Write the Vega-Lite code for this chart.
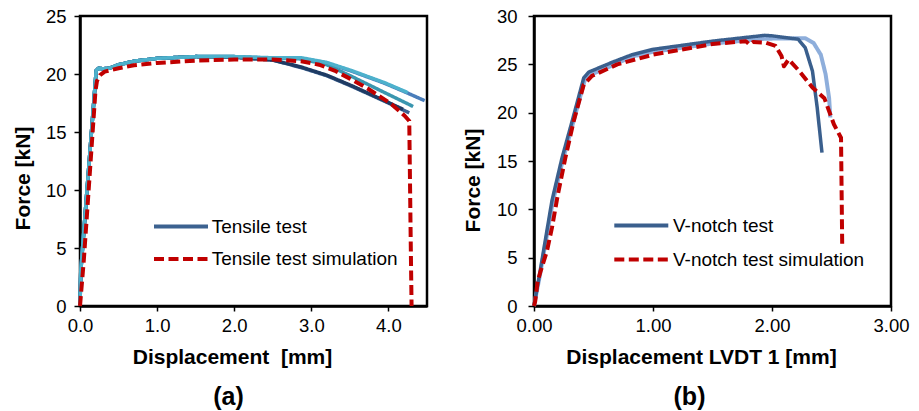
{
  "$schema": "https://vega.github.io/schema/vega-lite/v6.json",
  "autosize": {"type": "pad"},
  "padding": {"left": 11, "top": 5, "right": 10, "bottom": 0},
  "background": "white",
  "config": {
    "font": "Liberation Sans",
    "view": {"stroke": "black", "strokeWidth": 2.5},
    "axis": {"grid": false, "labelFlush": false, "domainColor": "black", "domainWidth": 2.5, "tickColor": "black", "tickWidth": 1.5, "labelFont": "Liberation Sans", "labelFontSize": 18.5, "labelColor": "black", "titleFont": "Liberation Sans", "titleFontSize": 21, "titleFontWeight": "bold", "titleColor": "black"},
    "axisX": {"tickSize": 5, "labelPadding": 5.5, "titlePadding": 11},
    "axisY": {"tickSize": 6, "labelPadding": 8, "titlePadding": 10},
    "legend": {"labelFont": "Liberation Sans", "labelFontSize": 19, "labelColor": "black", "labelLimit": 0, "symbolType": "M-1,0H3", "symbolSize": 729, "symbolStrokeWidth": 4, "rowPadding": 6, "orient": "none", "title": null},
    "title": {"font": "Liberation Sans", "fontSize": 25, "fontWeight": "bold", "color": "black"}
  },
  "datasets": {
    "left": [
      {"s": "T2", "x": 0, "f": 0}, {"s": "T2", "x": 0.01, "f": 3}, {"s": "T2", "x": 0.21, "f": 20.3}, {"s": "T2", "x": 0.24, "f": 20.5}, {"s": "T2", "x": 0.3, "f": 20.45}, {"s": "T2", "x": 0.38, "f": 20.5}, {"s": "T2", "x": 0.5, "f": 20.8}, {"s": "T2", "x": 0.7, "f": 21.1}, {"s": "T2", "x": 1.0, "f": 21.35}, {"s": "T2", "x": 1.5, "f": 21.5}, {"s": "T2", "x": 2.0, "f": 21.5}, {"s": "T2", "x": 2.5, "f": 21.35}, {"s": "T2", "x": 2.87, "f": 21.35}, {"s": "T2", "x": 3.2, "f": 20.95}, {"s": "T2", "x": 3.52, "f": 20.25}, {"s": "T2", "x": 3.95, "f": 19.2}, {"s": "T2", "x": 4.25, "f": 18.35}, {"s": "T2", "x": 4.47, "f": 17.7},
      {"s": "Tensile test", "x": 0, "f": 0}, {"s": "Tensile test", "x": 0.01, "f": 3}, {"s": "Tensile test", "x": 0.21, "f": 20.3}, {"s": "Tensile test", "x": 0.24, "f": 20.5}, {"s": "Tensile test", "x": 0.3, "f": 20.45}, {"s": "Tensile test", "x": 0.38, "f": 20.5}, {"s": "Tensile test", "x": 0.5, "f": 20.8}, {"s": "Tensile test", "x": 0.7, "f": 21.1}, {"s": "Tensile test", "x": 1.0, "f": 21.35}, {"s": "Tensile test", "x": 1.5, "f": 21.5}, {"s": "Tensile test", "x": 2.0, "f": 21.45}, {"s": "Tensile test", "x": 2.5, "f": 21.2}, {"s": "Tensile test", "x": 2.87, "f": 20.55}, {"s": "Tensile test", "x": 3.2, "f": 19.85}, {"s": "Tensile test", "x": 3.52, "f": 18.95}, {"s": "Tensile test", "x": 3.95, "f": 17.65}, {"s": "Tensile test", "x": 4.27, "f": 16.65},
      {"s": "T1", "x": 0, "f": 0}, {"s": "T1", "x": 0.01, "f": 3}, {"s": "T1", "x": 0.21, "f": 20.3}, {"s": "T1", "x": 0.24, "f": 20.5}, {"s": "T1", "x": 0.3, "f": 20.45}, {"s": "T1", "x": 0.38, "f": 20.5}, {"s": "T1", "x": 0.5, "f": 20.8}, {"s": "T1", "x": 0.7, "f": 21.1}, {"s": "T1", "x": 1.0, "f": 21.35}, {"s": "T1", "x": 1.5, "f": 21.5}, {"s": "T1", "x": 2.0, "f": 21.45}, {"s": "T1", "x": 2.5, "f": 21.2}, {"s": "T1", "x": 2.87, "f": 20.6}, {"s": "T1", "x": 3.2, "f": 19.9}, {"s": "T1", "x": 3.52, "f": 19.0}, {"s": "T1", "x": 3.95, "f": 17.7}, {"s": "T1", "x": 4.19, "f": 16.95},
      {"s": "T3", "x": 0, "f": 0}, {"s": "T3", "x": 0.01, "f": 3}, {"s": "T3", "x": 0.21, "f": 20.3}, {"s": "T3", "x": 0.24, "f": 20.5}, {"s": "T3", "x": 0.3, "f": 20.45}, {"s": "T3", "x": 0.38, "f": 20.5}, {"s": "T3", "x": 0.5, "f": 20.8}, {"s": "T3", "x": 0.7, "f": 21.1}, {"s": "T3", "x": 1.0, "f": 21.35}, {"s": "T3", "x": 1.5, "f": 21.5}, {"s": "T3", "x": 2.0, "f": 21.5}, {"s": "T3", "x": 2.5, "f": 21.35}, {"s": "T3", "x": 2.87, "f": 21.3}, {"s": "T3", "x": 3.2, "f": 20.8}, {"s": "T3", "x": 3.52, "f": 19.8}, {"s": "T3", "x": 3.95, "f": 18.4}, {"s": "T3", "x": 4.32, "f": 17.2},
      {"s": "T4", "x": 0, "f": 0}, {"s": "T4", "x": 0.01, "f": 3}, {"s": "T4", "x": 0.21, "f": 20.3}, {"s": "T4", "x": 0.24, "f": 20.5}, {"s": "T4", "x": 0.3, "f": 20.45}, {"s": "T4", "x": 0.38, "f": 20.5}, {"s": "T4", "x": 0.5, "f": 20.8}, {"s": "T4", "x": 0.7, "f": 21.1}, {"s": "T4", "x": 1.0, "f": 21.35}, {"s": "T4", "x": 1.5, "f": 21.5}, {"s": "T4", "x": 2.0, "f": 21.5}, {"s": "T4", "x": 2.5, "f": 21.4}, {"s": "T4", "x": 2.87, "f": 21.4}, {"s": "T4", "x": 3.2, "f": 21.0}, {"s": "T4", "x": 3.52, "f": 20.3}, {"s": "T4", "x": 3.95, "f": 19.25}, {"s": "T4", "x": 4.25, "f": 18.4},
      {"s": "Tensile test simulation", "x": 0, "f": 0}, {"s": "Tensile test simulation", "x": 0.05, "f": 4}, {"s": "Tensile test simulation", "x": 0.2, "f": 18.5}, {"s": "Tensile test simulation", "x": 0.22, "f": 19.4}, {"s": "Tensile test simulation", "x": 0.26, "f": 19.9}, {"s": "Tensile test simulation", "x": 0.32, "f": 20.2}, {"s": "Tensile test simulation", "x": 0.5, "f": 20.5}, {"s": "Tensile test simulation", "x": 0.7, "f": 20.75}, {"s": "Tensile test simulation", "x": 1.0, "f": 20.95}, {"s": "Tensile test simulation", "x": 1.5, "f": 21.15}, {"s": "Tensile test simulation", "x": 2.0, "f": 21.25}, {"s": "Tensile test simulation", "x": 2.5, "f": 21.25}, {"s": "Tensile test simulation", "x": 2.87, "f": 21.1}, {"s": "Tensile test simulation", "x": 3.1, "f": 20.8}, {"s": "Tensile test simulation", "x": 3.3, "f": 20.3}, {"s": "Tensile test simulation", "x": 3.5, "f": 19.6}, {"s": "Tensile test simulation", "x": 3.73, "f": 18.75}, {"s": "Tensile test simulation", "x": 4.04, "f": 17.4}, {"s": "Tensile test simulation", "x": 4.21, "f": 16.4}, {"s": "Tensile test simulation", "x": 4.27, "f": 15.95}, {"s": "Tensile test simulation", "x": 4.29, "f": 5}, {"s": "Tensile test simulation", "x": 4.3, "f": 0}
    ],
    "right": [
      {"s": "V2", "x": 0, "f": 0}, {"s": "V2", "x": 0.05, "f": 3.2}, {"s": "V2", "x": 0.155, "f": 10.6}, {"s": "V2", "x": 0.24, "f": 15.0}, {"s": "V2", "x": 0.325, "f": 18.8}, {"s": "V2", "x": 0.425, "f": 23.3}, {"s": "V2", "x": 0.47, "f": 23.9}, {"s": "V2", "x": 0.66, "f": 24.9}, {"s": "V2", "x": 0.824, "f": 25.8}, {"s": "V2", "x": 1.0, "f": 26.3}, {"s": "V2", "x": 1.5, "f": 27.15}, {"s": "V2", "x": 1.94, "f": 27.65}, {"s": "V2", "x": 2.28, "f": 27.7}, {"s": "V2", "x": 2.35, "f": 27.2}, {"s": "V2", "x": 2.41, "f": 26.0}, {"s": "V2", "x": 2.45, "f": 24.0}, {"s": "V2", "x": 2.48, "f": 21.5}, {"s": "V2", "x": 2.49, "f": 19.5},
      {"s": "V-notch test", "x": 0, "f": 0}, {"s": "V-notch test", "x": 0.05, "f": 3.5}, {"s": "V-notch test", "x": 0.151, "f": 10.9}, {"s": "V-notch test", "x": 0.235, "f": 15.3}, {"s": "V-notch test", "x": 0.32, "f": 19.1}, {"s": "V-notch test", "x": 0.418, "f": 23.6}, {"s": "V-notch test", "x": 0.46, "f": 24.2}, {"s": "V-notch test", "x": 0.655, "f": 25.2}, {"s": "V-notch test", "x": 0.824, "f": 26.0}, {"s": "V-notch test", "x": 1.0, "f": 26.55}, {"s": "V-notch test", "x": 1.5, "f": 27.4}, {"s": "V-notch test", "x": 1.94, "f": 28.0}, {"s": "V-notch test", "x": 2.0, "f": 27.95}, {"s": "V-notch test", "x": 2.22, "f": 27.6}, {"s": "V-notch test", "x": 2.28, "f": 26.7}, {"s": "V-notch test", "x": 2.34, "f": 24.3}, {"s": "V-notch test", "x": 2.38, "f": 20.5}, {"s": "V-notch test", "x": 2.42, "f": 15.86},
      {"s": "V-notch test simulation", "x": 0, "f": 0}, {"s": "V-notch test simulation", "x": 0.01, "f": 0.5}, {"s": "V-notch test simulation", "x": 0.03, "f": 2.5}, {"s": "V-notch test simulation", "x": 0.053, "f": 3.5}, {"s": "V-notch test simulation", "x": 0.109, "f": 5.7}, {"s": "V-notch test simulation", "x": 0.151, "f": 8.1}, {"s": "V-notch test simulation", "x": 0.2, "f": 11.5}, {"s": "V-notch test simulation", "x": 0.263, "f": 15.3}, {"s": "V-notch test simulation", "x": 0.333, "f": 19.1}, {"s": "V-notch test simulation", "x": 0.418, "f": 22.9}, {"s": "V-notch test simulation", "x": 0.487, "f": 23.8}, {"s": "V-notch test simulation", "x": 0.7, "f": 25.0}, {"s": "V-notch test simulation", "x": 1.0, "f": 26.0}, {"s": "V-notch test simulation", "x": 1.5, "f": 27.1}, {"s": "V-notch test simulation", "x": 1.78, "f": 27.4}, {"s": "V-notch test simulation", "x": 1.81, "f": 27.05}, {"s": "V-notch test simulation", "x": 1.84, "f": 27.3}, {"s": "V-notch test simulation", "x": 1.95, "f": 27.24}, {"s": "V-notch test simulation", "x": 2.03, "f": 26.9}, {"s": "V-notch test simulation", "x": 2.08, "f": 25.86}, {"s": "V-notch test simulation", "x": 2.1, "f": 24.8}, {"s": "V-notch test simulation", "x": 2.14, "f": 25.5}, {"s": "V-notch test simulation", "x": 2.23, "f": 24.3}, {"s": "V-notch test simulation", "x": 2.34, "f": 22.6}, {"s": "V-notch test simulation", "x": 2.44, "f": 21.5}, {"s": "V-notch test simulation", "x": 2.52, "f": 18.8}, {"s": "V-notch test simulation", "x": 2.58, "f": 17.4}, {"s": "V-notch test simulation", "x": 2.59, "f": 6.2}
    ]
  },
  "spacing": 107,
  "bounds": "flush",
  "resolve": {"scale": {"color": "independent", "strokeDash": "independent", "x": "independent", "y": "independent"}, "legend": {"color": "independent", "strokeDash": "independent"}},
  "hconcat": [
    {
      "width": 347,
      "height": 290,
      "title": {"text": "(a)", "orient": "bottom", "anchor": "middle", "dx": -25, "offset": 18},
      "data": {"name": "left"},
      "encoding": {
        "x": {"field": "x", "type": "quantitative", "scale": {"domain": [0, 4.5], "nice": false}, "axis": {"values": [0, 1, 2, 3, 4], "format": ".1f", "title": "Displacement\u00a0 [mm]", "titleX": 152}},
        "y": {"field": "f", "type": "quantitative", "scale": {"domain": [0, 25], "nice": false}, "axis": {"values": [0, 5, 10, 15, 20, 25], "format": "d", "title": "Force [kN]", "titleY": 162, "labelPadding": 8, "titlePadding": 12}},
        "color": {"field": "s", "type": "nominal", "scale": {"domain": ["Tensile test", "Tensile test simulation", "T1", "T2", "T3", "T4"], "range": ["#3C6290", "#C00000", "#1F3B63", "#4A7EBB", "#3A96AF", "#4DB1CC"]}, "legend": {"values": ["Tensile test", "Tensile test simulation"], "legendX": 72, "legendY": 195, "labelOffset": 28.7, "rowPadding": 6.6}},
        "strokeDash": {"field": "s", "type": "nominal", "scale": {"domain": ["Tensile test", "Tensile test simulation", "T1", "T2", "T3", "T4"], "range": [[1, 0], [10, 4.5], [1, 0], [1, 0], [1, 0], [1, 0]]}, "legend": {"values": ["Tensile test", "Tensile test simulation"], "legendX": 72, "legendY": 195, "labelOffset": 28.7, "rowPadding": 6.6}}
      },
      "layer": [
        {"transform": [{"filter": "datum.s === 'T2'"}], "mark": {"type": "line", "strokeWidth": 3.5, "strokeJoin": "round"}},
        {"transform": [{"filter": "datum.s === 'Tensile test'"}], "mark": {"type": "line", "strokeWidth": 3.5, "strokeJoin": "round"}},
        {"transform": [{"filter": "datum.s === 'T1'"}], "mark": {"type": "line", "strokeWidth": 3.5, "strokeJoin": "round"}},
        {"transform": [{"filter": "datum.s === 'T3'"}], "mark": {"type": "line", "strokeWidth": 3.5, "strokeJoin": "round"}},
        {"transform": [{"filter": "datum.s === 'T4'"}], "mark": {"type": "line", "strokeWidth": 3.5, "strokeJoin": "round"}},
        {"transform": [{"filter": "datum.s === 'Tensile test simulation'"}], "mark": {"type": "line", "strokeWidth": 4, "strokeCap": "butt", "strokeJoin": "round"}}
      ]
    },
    {
      "width": 357,
      "height": 290,
      "title": {"text": "(b)", "orient": "bottom", "anchor": "middle", "dx": -23, "offset": 18},
      "data": {"name": "right"},
      "encoding": {
        "x": {"field": "x", "type": "quantitative", "scale": {"domain": [0, 3], "nice": false}, "axis": {"values": [0, 1, 2, 3], "format": ".2f", "title": "Displacement LVDT 1 [mm]", "titleX": 167}},
        "y": {"field": "f", "type": "quantitative", "scale": {"domain": [0, 30], "nice": false}, "axis": {"values": [0, 5, 10, 15, 20, 25, 30], "format": "d", "title": "Force [kN]", "titleY": 164, "labelPadding": 11, "titlePadding": 13}},
        "color": {"field": "s", "type": "nominal", "scale": {"domain": ["V-notch test", "V-notch test simulation", "V2"], "range": ["#3A5F8D", "#C00000", "#8EAEDB"]}, "legend": {"values": ["V-notch test", "V-notch test simulation"], "legendX": 78.3, "legendY": 194, "labelOffset": 29.7, "rowPadding": 8}},
        "strokeDash": {"field": "s", "type": "nominal", "scale": {"domain": ["V-notch test", "V-notch test simulation", "V2"], "range": [[1, 0], [10, 4.5], [1, 0]]}, "legend": {"values": ["V-notch test", "V-notch test simulation"], "legendX": 78.3, "legendY": 194, "labelOffset": 29.7, "rowPadding": 8}}
      },
      "layer": [
        {"transform": [{"filter": "datum.s === 'V2'"}], "mark": {"type": "line", "strokeWidth": 4, "strokeJoin": "round"}},
        {"transform": [{"filter": "datum.s === 'V-notch test'"}], "mark": {"type": "line", "strokeWidth": 3.5, "strokeJoin": "round"}},
        {"transform": [{"filter": "datum.s === 'V-notch test simulation'"}], "mark": {"type": "line", "strokeWidth": 4, "strokeCap": "butt", "strokeJoin": "round"}}
      ]
    }
  ]
}
